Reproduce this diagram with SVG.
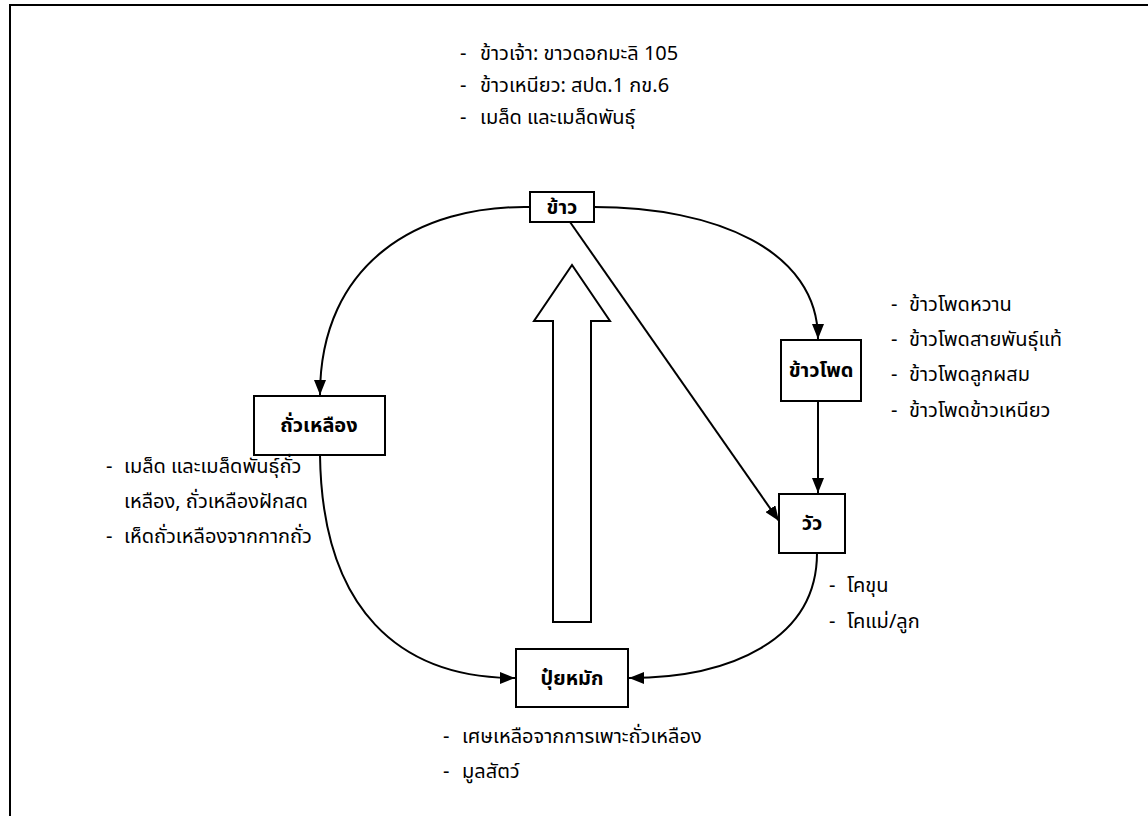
<svg xmlns="http://www.w3.org/2000/svg" width="1148" height="816" viewBox="0 0 1148 816">
<defs>
<marker id="arr" viewBox="0 0 15 12" refX="15" refY="6" markerWidth="15" markerHeight="12" markerUnits="userSpaceOnUse" orient="auto">
<path d="M0,0 L15,6 L0,12 Z" fill="#000"/>
</marker>
<style>
.box{fill:#fff;stroke:#000;stroke-width:2}
.lbl{font-family:"Noto Sans Thai","Noto Sans","Liberation Sans",sans-serif;font-size:20px;font-weight:bold;text-anchor:middle;fill:#000}
.item{font-family:"Noto Sans Thai","Noto Sans","Liberation Sans",sans-serif;font-size:20px;fill:#000}
.con{fill:none;stroke:#000;stroke-width:2;marker-end:url(#arr)}
</style>
</defs>
<rect width="1148" height="816" fill="#fff"/>
<rect x="10" y="5" width="1160" height="830" fill="none" stroke="#000" stroke-width="2"/>
<g id="connectors">
<path class="con" d="M530,207 C420,205 320,262 320,395"/>
<path class="con" d="M594,207 C715,207 818,250 818,339"/>
<path class="con" d="M570,222 L779,521"/>
<path class="con" d="M818,401 L818,493"/>
<path class="con" d="M320,455 C322,610 400,678 515,678"/>
<path class="con" d="M817,553 C817,640 730,678 629,678"/>
<path d="M553,622 L591,622 L591,321 L610,321 L572,265 L534,321 L553,321 Z" fill="#fff" stroke="#000" stroke-width="2"/>
</g>
<g id="rice">
<rect class="box" x="530" y="192" width="64" height="30"/>
<text class="lbl" x="562" y="214">ข้าว</text>
</g>
<g id="corn">
<rect class="box" x="781" y="340" width="80" height="61"/>
<text class="lbl" x="821" y="377">ข้าวโพด</text>
</g>
<g id="soybean">
<rect class="box" x="254" y="396" width="131" height="59"/>
<text class="lbl" x="319" y="432">ถั่วเหลือง</text>
</g>
<g id="cow">
<rect class="box" x="779" y="494" width="66" height="59"/>
<text class="lbl" x="812" y="530">วัว</text>
</g>
<g id="compost">
<rect class="box" x="516" y="649" width="112" height="58"/>
<text class="lbl" x="572" y="685">ปุ๋ยหมัก</text>
</g>
<g id="rice-notes">
<text class="item" y="60"><tspan x="460">-</tspan><tspan x="480">ข้าวเจ้า: ขาวดอกมะลิ 105</tspan></text>
<text class="item" y="92"><tspan x="460">-</tspan><tspan x="480">ข้าวเหนียว: สปต.1 กข.6</tspan></text>
<text class="item" y="124"><tspan x="460">-</tspan><tspan x="480">เมล็ด และเมล็ดพันธุ์</tspan></text>
</g>
<g id="corn-notes">
<text class="item" y="311"><tspan x="891">-</tspan><tspan x="909">ข้าวโพดหวาน</tspan></text>
<text class="item" y="346"><tspan x="891">-</tspan><tspan x="909">ข้าวโพดสายพันธุ์แท้</tspan></text>
<text class="item" y="381"><tspan x="891">-</tspan><tspan x="909">ข้าวโพดลูกผสม</tspan></text>
<text class="item" y="417"><tspan x="891">-</tspan><tspan x="909">ข้าวโพดข้าวเหนียว</tspan></text>
</g>
<g id="soybean-notes">
<text class="item" y="473"><tspan x="106">-</tspan><tspan x="124">เมล็ด และเมล็ดพันธุ์ถั่ว</tspan></text>
<text class="item" y="508"><tspan x="124">เหลือง, ถั่วเหลืองฝักสด</tspan></text>
<text class="item" y="543"><tspan x="106">-</tspan><tspan x="124">เห็ดถั่วเหลืองจากกากถั่ว</tspan></text>
</g>
<g id="cow-notes">
<text class="item" y="592"><tspan x="829">-</tspan><tspan x="847">โคขุน</tspan></text>
<text class="item" y="628"><tspan x="829">-</tspan><tspan x="847">โคแม่/ลูก</tspan></text>
</g>
<g id="compost-notes">
<text class="item" y="743"><tspan x="443">-</tspan><tspan x="462">เศษเหลือจากการเพาะถั่วเหลือง</tspan></text>
<text class="item" y="778"><tspan x="443">-</tspan><tspan x="462">มูลสัตว์</tspan></text>
</g>
</svg>
